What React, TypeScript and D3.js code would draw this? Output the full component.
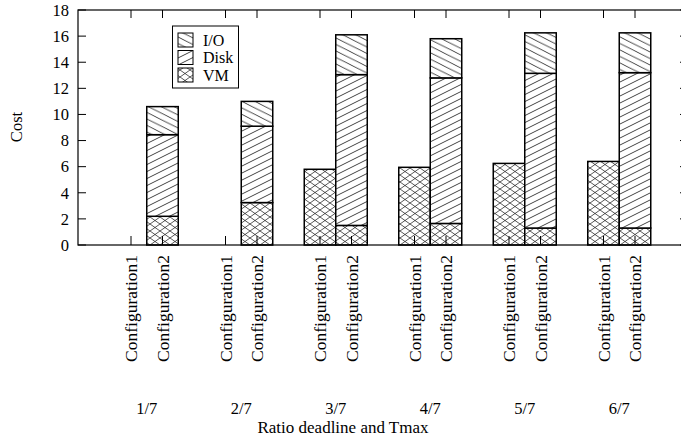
import React from "react";
import * as d3 from "d3";

// values
const groups = ["1/7", "2/7", "3/7", "4/7", "5/7", "6/7"];
const configs = ["Configuration1", "Configuration2"];
const seriesNames = ["VM", "Disk", "I/O"];

// configuration 1: VM only
const vmConfig1 = [0, 0, 5.8, 5.95, 6.25, 6.4];
const diskConfig1 = [0, 0, 0, 0, 0, 0];
const ioConfig1 = [0, 0, 0, 0, 0, 0];

// configuration 2: stacked VM, Disk, I/O
const vmConfig2 = [2.2, 3.25, 1.5, 1.65, 1.3, 1.3];
const diskConfig2 = [6.25, 5.85, 11.55, 11.15, 11.85, 11.9];
const ioConfig2 = [2.15, 1.9, 3.05, 3.0, 3.1, 3.05];

const yTicks = [0, 2, 4, 6, 8, 10, 12, 14, 16, 18];

const W = 681;
const H = 443;
const margin = { top: 10, right: 688, bottom: 245, left: 78 };
const FONT = "Liberation Serif";

const patternIds: Record<string, string> = {
  VM: "pat-vm",
  Disk: "pat-disk",
  "I/O": "pat-io",
};

function App() {
  const ref = React.useRef<SVGSVGElement>(null);

  React.useEffect(() => {
    const svg = d3.select(ref.current);
    svg.selectAll("*").remove();

    // patterns
    const defs = svg.append("defs");
    const io = defs
      .append("pattern")
      .attr("id", patternIds["I/O"])
      .attr("patternUnits", "userSpaceOnUse")
      .attr("width", 13)
      .attr("height", 6.5);
    [[0, -6.5, 13, 0], [0, 0, 13, 6.5], [0, 6.5, 13, 13]].forEach((l) =>
      io
        .append("line")
        .attr("x1", l[0]).attr("y1", l[1]).attr("x2", l[2]).attr("y2", l[3])
        .attr("stroke", "#111").attr("stroke-width", 0.8)
    );
    const disk = defs
      .append("pattern")
      .attr("id", patternIds.Disk)
      .attr("patternUnits", "userSpaceOnUse")
      .attr("width", 14)
      .attr("height", 7);
    [[0, 7, 14, 0], [0, 14, 14, 7], [0, 0, 14, -7]].forEach((l) =>
      disk
        .append("line")
        .attr("x1", l[0]).attr("y1", l[1]).attr("x2", l[2]).attr("y2", l[3])
        .attr("stroke", "#111").attr("stroke-width", 0.8)
    );
    const vm = defs
      .append("pattern")
      .attr("id", patternIds.VM)
      .attr("patternUnits", "userSpaceOnUse")
      .attr("width", 10)
      .attr("height", 7);
    [[0, 0, 10, 7], [0, 7, 10, 0], [-10, 0, 10, 14], [0, 14, 20, 0]].forEach((l) =>
      vm
        .append("line")
        .attr("x1", l[0]).attr("y1", l[1]).attr("x2", l[2]).attr("y2", l[3])
        .attr("stroke", "#111").attr("stroke-width", 0.7)
    );

    const slot = (g: number, c: number) => g * 3 + c;
    const x = d3.scaleLinear().domain([0, 16]).range([131, 635]);
    const bw = x(1) - x(0);
    const y = d3.scaleLinear().domain([0, 18]).range([margin.bottom, margin.top]);

    const table = groups.flatMap((g, i) => [
      { group: i, config: 0, VM: vmConfig1[i], Disk: diskConfig1[i], "I/O": ioConfig1[i] },
      { group: i, config: 1, VM: vmConfig2[i], Disk: diskConfig2[i], "I/O": ioConfig2[i] },
    ]);
    const stacked = d3.stack<any>().keys(seriesNames)(table);

    const bars = svg.append("g");
    stacked.forEach((layer) => {
      bars
        .append("g")
        .selectAll("rect")
        .data(layer.filter((d) => d[1] - d[0] > 0))
        .join("rect")
        .attr("x", (d) => x(slot(d.data.group, d.data.config)) - bw / 2)
        .attr("width", bw)
        .attr("y", (d) => y(d[1]))
        .attr("height", (d) => y(d[0]) - y(d[1]))
        .attr("fill", "#fff")
        .clone()
        .attr("fill", `url(#${patternIds[layer.key]})`)
        .attr("stroke", "#000")
        .attr("stroke-width", 1.5);
    });

    // frame
    svg
      .append("rect")
      .attr("x", margin.left)
      .attr("y", margin.top)
      .attr("width", margin.right - margin.left)
      .attr("height", margin.bottom - margin.top)
      .attr("fill", "none")
      .attr("stroke", "#000")
      .attr("stroke-width", 1.2);

    // y axis ticks (left and mirrored right)
    const yAxis = svg.append("g").attr("font-family", FONT).attr("font-size", 16.5);
    yTicks.forEach((t) => {
      yAxis.append("line")
        .attr("x1", margin.left).attr("x2", margin.left + 8)
        .attr("y1", y(t)).attr("y2", y(t)).attr("stroke", "#000");
      yAxis.append("line")
        .attr("x1", margin.right - 8).attr("x2", margin.right)
        .attr("y1", y(t)).attr("y2", y(t)).attr("stroke", "#000");
      yAxis.append("text")
        .attr("x", margin.left - 9)
        .attr("y", y(t))
        .attr("dy", "0.35em")
        .attr("text-anchor", "end")
        .text(t);
    });

    // x ticks at bar centres (bottom and mirrored top)
    const xAxis = svg.append("g").attr("font-family", FONT);
    groups.forEach((g, i) => {
      configs.forEach((c, j) => {
        const cx = x(slot(i, j));
        xAxis.append("line")
          .attr("x1", cx).attr("x2", cx)
          .attr("y1", margin.bottom).attr("y2", margin.bottom - 9)
          .attr("stroke", "#000");
        xAxis.append("line")
          .attr("x1", cx).attr("x2", cx)
          .attr("y1", margin.top).attr("y2", margin.top + 8)
          .attr("stroke", "#000");
        xAxis.append("text")
          .attr("transform", `translate(${cx},${margin.bottom + 10}) rotate(-90)`)
          .attr("dy", "0.35em")
          .attr("text-anchor", "end")
          .attr("font-family", FONT)
          .attr("font-size", 17.5)
          .text(c);
      });
      xAxis.append("text")
        .attr("x", (x(slot(i, 0)) + x(slot(i, 1))) / 2)
        .attr("y", 408)
        .attr("dy", "0.35em")
        .attr("text-anchor", "middle")
        .attr("font-size", 16.5)
        .text(g);
    });

    svg.append("text")
      .attr("x", 343)
      .attr("y", 427)
      .attr("dy", "0.35em")
      .attr("text-anchor", "middle")
      .attr("font-family", FONT)
      .attr("font-size", 17)
      .text("Ratio deadline and Tmax");

    svg.append("text")
      .attr("transform", "translate(16,127) rotate(-90)")
      .attr("dy", "0.35em")
      .attr("text-anchor", "middle")
      .attr("font-family", FONT)
      .attr("font-size", 16.5)
      .text("Cost");

    // legend
    const legend = svg.append("g").attr("font-family", FONT).attr("font-size", 16);
    legend.append("rect")
      .attr("x", 172.5).attr("y", 26).attr("width", 66).attr("height", 62)
      .attr("fill", "#fff").attr("stroke", "#000");
    ["I/O", "Disk", "VM"].forEach((k, i) => {
      const cy = 40 + i * 17.5;
      legend.append("rect")
        .attr("x", 178).attr("y", cy - 7).attr("width", 15).attr("height", 14)
        .attr("fill", `url(#${patternIds[k]})`).attr("stroke", "#000");
      legend.append("text")
        .attr("x", 203).attr("y", cy).attr("dy", "0.35em").text(k);
    });
  }, []);

  return (
    <svg
      ref={ref}
      width={W}
      height={H}
      style={{ position: "absolute", left: 0, top: 0, background: "#fff" }}
    />
  );
}

export default App;
